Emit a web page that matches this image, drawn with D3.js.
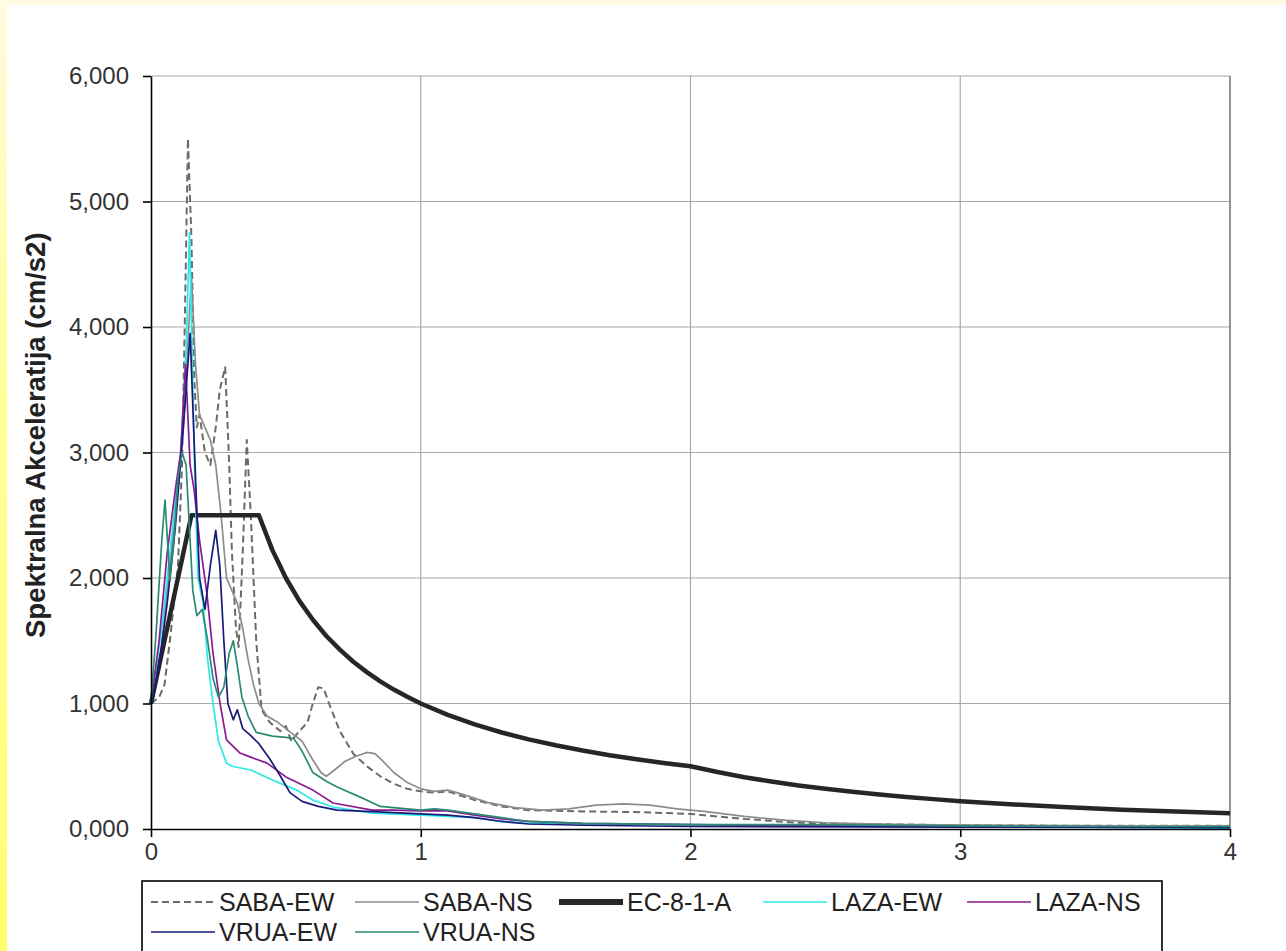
<!DOCTYPE html>
<html>
<head>
<meta charset="utf-8">
<script src="https://cdn.jsdelivr.net/npm/d3@7"></script>
<style>
  html, body { margin: 0; padding: 0; background: #fff; }
  svg { display: block; }
</style>
</head>
<body>
<svg id="chart" width="1286" height="951"></svg>
<script>
// ---------------- DATA ----------------
const yTickValues = [0, 1000, 2000, 3000, 4000, 5000, 6000];
const yTickLabels = ["0,000", "1,000", "2,000", "3,000", "4,000", "5,000", "6,000"];
const xTickValues = [0, 1, 2, 3, 4];
const xTickLabels = ["0", "1", "2", "3", "4"];
const yAxisTitle = "Spektralna Akceleratija (cm/s2)";

const seriesNames = ["SABA-EW", "SABA-NS", "EC-8-1-A", "LAZA-EW", "LAZA-NS", "VRUA-EW", "VRUA-NS"];

// [period (s), spectral acceleration]
const sabaEW = [[0,1000],[0.03,1050],[0.05,1150],[0.07,1500],[0.1,2100],[0.115,2900],[0.125,4000],[0.137,5500],
  [0.15,4700],[0.16,3600],[0.17,3200],[0.18,3300],[0.2,3000],[0.22,2900],[0.24,3200],[0.255,3500],[0.275,3680],
  [0.29,2900],[0.3,2200],[0.315,1600],[0.325,1450],[0.34,2200],[0.355,3100],[0.37,2500],[0.39,1500],[0.41,950],
  [0.44,850],[0.48,780],[0.5,820],[0.52,700],[0.55,780],[0.58,850],[0.6,1000],[0.62,1130],[0.64,1120],[0.66,1000],
  [0.7,780],[0.75,600],[0.8,500],[0.85,420],[0.9,360],[0.95,320],[1.0,300],[1.05,290],[1.1,300],[1.2,230],
  [1.3,180],[1.4,150],[1.6,140],[1.8,135],[2.0,120],[2.2,80],[2.4,50],[2.6,40],[3.0,30],[3.5,25],[4.0,25]];

const sabaNS = [[0,1000],[0.03,1300],[0.06,1900],[0.09,2500],[0.12,3200],[0.15,4400],[0.165,3700],[0.18,3300],
  [0.2,3200],[0.22,3100],[0.24,2900],[0.26,2500],[0.28,2000],[0.3,1900],[0.32,1800],[0.34,1600],[0.36,1350],
  [0.38,1150],[0.4,1000],[0.43,900],[0.47,850],[0.5,800],[0.53,750],[0.56,700],[0.6,550],[0.63,450],[0.65,420],
  [0.68,470],[0.72,540],[0.76,580],[0.8,610],[0.83,600],[0.86,540],[0.9,450],[0.95,370],[1.0,320],[1.05,300],
  [1.1,310],[1.15,280],[1.25,210],[1.35,170],[1.45,150],[1.55,160],[1.65,190],[1.75,200],[1.85,190],[1.95,160],
  [2.05,140],[2.2,100],[2.35,70],[2.5,50],[2.8,35],[3.2,30],[3.6,25],[4.0,25]];

const ec81A = [[0,1000],[0.15,2500],[0.4,2500],[0.45,2222],[0.5,2000],[0.55,1818],[0.6,1667],[0.65,1538],[0.7,1429],
  [0.75,1333],[0.8,1250],[0.85,1176],[0.9,1111],[0.95,1053],[1.0,1000],[1.1,909],[1.2,833],[1.3,769],[1.4,714],
  [1.5,667],[1.6,625],[1.7,588],[1.8,556],[1.9,526],[2.0,500],[2.1,454],[2.2,413],[2.3,378],[2.4,347],[2.5,320],
  [2.6,296],[2.7,274],[2.8,255],[2.9,238],[3.0,222],[3.2,195],[3.4,173],[3.6,154],[3.8,139],[4.0,125]];

const lazaEW = [[0,1000],[0.04,1600],[0.08,2400],[0.11,3000],[0.13,3800],[0.143,4750],[0.16,3000],[0.174,2000],
  [0.193,1800],[0.21,1350],[0.23,1000],[0.25,700],[0.28,525],[0.3,500],[0.37,470],[0.45,390],[0.54,310],[0.6,230],
  [0.675,175],[0.82,127],[1.0,110],[1.1,100],[1.2,90],[1.3,60],[1.4,45],[1.6,40],[2.0,35],[2.5,25],[3.0,20],
  [3.5,15],[3.7,10],[4.0,5]];

const lazaNS = [[0,1000],[0.03,1500],[0.06,2200],[0.09,2700],[0.11,3000],[0.128,3700],[0.145,2900],[0.16,2700],
  [0.18,2300],[0.207,1880],[0.23,1400],[0.256,1000],[0.28,710],[0.33,605],[0.367,575],[0.43,525],[0.5,415],
  [0.6,310],[0.675,207],[0.82,150],[0.9,150],[1.0,145],[1.1,145],[1.2,110],[1.3,80],[1.4,60],[1.6,45],[2.0,35],
  [2.5,25],[3.0,20],[4.0,15]];

const vruaEW = [[0,1000],[0.03,1300],[0.06,1800],[0.09,2400],[0.12,3200],[0.145,3950],[0.165,2800],[0.18,2000],
  [0.2,1750],[0.22,2100],[0.24,2380],[0.255,2100],[0.27,1500],[0.285,1000],[0.305,870],[0.32,950],[0.34,800],
  [0.367,750],[0.4,680],[0.44,560],[0.48,420],[0.515,290],[0.56,220],[0.62,180],[0.69,150],[0.8,140],[0.9,130],
  [1.0,120],[1.1,110],[1.2,90],[1.3,60],[1.4,40],[1.6,30],[2.0,20],[3.0,15],[4.0,10]];

const vruaNS = [[0,1000],[0.02,1600],[0.04,2300],[0.052,2620],[0.07,1980],[0.085,2300],[0.1,2800],[0.115,3000],
  [0.13,2900],[0.14,2500],[0.155,1900],[0.17,1700],[0.19,1750],[0.21,1500],[0.23,1200],[0.25,1050],[0.27,1130],
  [0.29,1400],[0.305,1500],[0.32,1300],[0.337,1050],[0.36,900],[0.39,770],[0.45,740],[0.5,730],[0.53,720],
  [0.56,620],[0.6,450],[0.65,380],[0.69,335],[0.78,250],[0.85,180],[0.95,160],[1.0,150],[1.05,160],[1.1,150],
  [1.2,120],[1.3,90],[1.4,60],[1.6,45],[2.0,35],[2.5,35],[3.0,25],[3.5,20],[4.0,20]];

const seriesData = [sabaEW, sabaNS, ec81A, lazaEW, lazaNS, vruaEW, vruaNS];

// ---------------- STYLE ----------------
const seriesStyle = [
  { color: "#6b6b6b", width: 2,   dash: "7,4" },
  { color: "#8c8c8c", width: 1.7, dash: null },
  { color: "#262626", width: 4.5, dash: null },
  { color: "#2ee8e8", width: 1.7, dash: null },
  { color: "#8a1a8f", width: 1.7, dash: null },
  { color: "#1a1a7a", width: 1.7, dash: null },
  { color: "#2a8a74", width: 1.7, dash: null }
];

const svg = d3.select("#chart");
const W = 1286, H = 951;
const plot = { left: 151, right: 1230, top: 76, bottom: 829 };

// background: pale yellow top strip and yellow left strip
const defs = svg.append("defs");
const grad = defs.append("linearGradient").attr("id", "lg").attr("x1", 0).attr("y1", 0).attr("x2", 0).attr("y2", 1);
grad.append("stop").attr("offset", "0%").attr("stop-color", "#fffbe0");
grad.append("stop").attr("offset", "40%").attr("stop-color", "#ffff9a");
grad.append("stop").attr("offset", "100%").attr("stop-color", "#ffff70");
svg.append("rect").attr("x", 0).attr("y", 0).attr("width", W).attr("height", H).attr("fill", "#ffffff");
svg.append("rect").attr("x", 0).attr("y", 0).attr("width", W).attr("height", 5).attr("fill", "#fffbe3");
svg.append("rect").attr("x", 0).attr("y", 0).attr("width", 7).attr("height", H).attr("fill", "url(#lg)");

const x = d3.scaleLinear().domain([0, 4]).range([plot.left, plot.right]);
const y = d3.scaleLinear().domain([0, 6000]).range([plot.bottom, plot.top]);

// gridlines
const grid = svg.append("g");
grid.selectAll("line.h").data(yTickValues.slice(1)).join("line")
  .attr("x1", plot.left).attr("x2", plot.right)
  .attr("y1", d => y(d)).attr("y2", d => y(d))
  .attr("stroke", "#a8a8a8").attr("stroke-width", 1.2);
grid.selectAll("line.v").data(xTickValues.slice(1)).join("line")
  .attr("y1", plot.top).attr("y2", plot.bottom)
  .attr("x1", d => x(d)).attr("x2", d => x(d))
  .attr("stroke", d => d === 4 ? "#707070" : "#a8a8a8").attr("stroke-width", d => d === 4 ? 1.5 : 1.2);

// series lines
const line = d3.line().x(d => x(d[0])).y(d => y(d[1])).curve(d3.curveLinear);
const linesG = svg.append("g");
seriesData.forEach((data, i) => {
  const st = seriesStyle[i];
  linesG.append("path")
    .datum(data)
    .attr("d", line)
    .attr("fill", "none")
    .attr("stroke", st.color)
    .attr("stroke-width", st.width)
    .attr("stroke-linejoin", "round")
    .attr("stroke-dasharray", st.dash);
});

// axes
const fontFam = "'Liberation Sans', Arial, sans-serif";
const yAxis = d3.axisLeft(y).tickValues(yTickValues).tickSize(8).tickSizeOuter(0)
  .tickFormat((d, i) => yTickLabels[i]);
const gy = svg.append("g").attr("transform", `translate(${plot.left},0)`).call(yAxis);
gy.select(".domain").attr("stroke", "#000").attr("stroke-width", 1.6);
gy.selectAll(".tick line").attr("stroke", "#000").attr("stroke-width", 1.6);
gy.selectAll(".tick text").attr("x", -22).attr("font-family", fontFam).attr("font-size", 24).attr("fill", "#333");

const xAxis = d3.axisBottom(x).tickValues(xTickValues).tickSize(8).tickSizeOuter(0)
  .tickFormat((d, i) => xTickLabels[i]);
const gx = svg.append("g").attr("transform", `translate(0,${plot.bottom})`).call(xAxis);
gx.select(".domain").attr("stroke", "#000").attr("stroke-width", 1.6);
gx.selectAll(".tick line").attr("stroke", "#000").attr("stroke-width", 1.6);
gx.selectAll(".tick text").attr("y", 14).attr("font-family", fontFam).attr("font-size", 24).attr("fill", "#333");

// axis title
svg.append("text")
  .attr("transform", `translate(45,638) rotate(-90)`)
  .attr("text-anchor", "start")
  .attr("font-family", fontFam)
  .attr("font-weight", "bold")
  .attr("font-size", 27.5)
  .attr("fill", "#222")
  .text(yAxisTitle);

// legend
const leg = svg.append("g");
leg.append("rect").attr("x", 142).attr("y", 881).attr("width", 1020).attr("height", 100)
  .attr("fill", "#fff").attr("stroke", "#000").attr("stroke-width", 1.6);
seriesNames.forEach((name, i) => {
  const col = i % 5, row = Math.floor(i / 5);
  const lx = 151 + col * 204;
  const ly = 902 + row * 30;
  const st = seriesStyle[i];
  leg.append("line").attr("x1", lx).attr("x2", lx + 64).attr("y1", ly).attr("y2", ly)
    .attr("stroke", st.color).attr("stroke-width", i === 2 ? 6 : st.width)
    .attr("stroke-dasharray", st.dash);
  leg.append("text").attr("x", lx + 68).attr("y", ly).attr("dy", "0.35em")
    .attr("font-family", fontFam).attr("font-size", 25).attr("fill", "#222")
    .text(name);
});
</script>
</body>
</html>
